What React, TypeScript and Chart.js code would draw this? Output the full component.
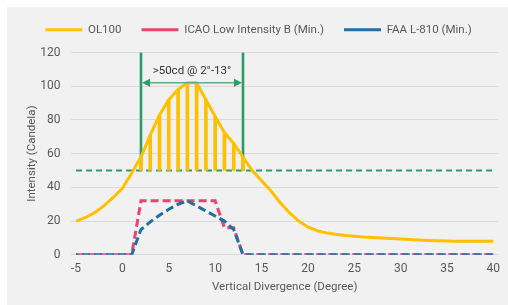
import React, { useEffect, useRef } from "react";
import { Chart, registerables } from "chart.js";

Chart.register(...registerables);

// Vertical divergence (degrees)
const degrees = [
  -5, -4, -3, -2, -1, 0, 1, 2, 3, 4, 5, 6, 7, 8, 9, 10, 11, 12, 13, 14, 15, 16, 17, 18, 19, 20,
  21, 22, 23, 24, 25, 26, 27, 28, 29, 30, 31, 32, 33, 34, 35, 36, 37, 38, 39, 40,
];
// OL100 intensity (cd)
const ol100 = [
  20, 22, 25, 29, 34, 39.5, 48.5, 58, 71, 83, 92, 98, 102, 102, 92, 82, 72.5, 66, 58, 50, 44,
  38, 31, 25, 20, 16.5, 14.3, 13, 12.2, 11.5, 11, 10.6, 10.3, 10, 9.7, 9.4, 9.1, 8.8, 8.5, 8.3,
  8.2, 8.1, 8.1, 8, 8, 8,
];
// ICAO Low Intensity B (Min.)
const icaoX = [-5, 1, 2, 10, 11, 12, 13, 40];
const icaoY = [0, 0, 32, 32, 16, 16, 0, 0];
// FAA L-810 (Min.)
const faaX = [-5, 1, 2, 3, 4, 5, 6, 7, 8, 9, 10, 11, 12, 13, 40];
const faaY = [0, 0, 15, 19.5, 23.5, 27, 30, 32, 29, 26, 23, 20, 15, 0, 0];

const xTicks = [-5, 0, 5, 10, 15, 20, 25, 30, 35, 40];
const yTicks = [0, 20, 40, 60, 80, 100, 120];

const rangeStart = 2;
const rangeEnd = 13;
const threshold = 50;
const yTop = 120;
const arrowLevel = 102;
const rangeLabel = ">50cd @ 2°-13°";

const seriesNames = ["OL100", "ICAO Low Intensity B (Min.)", "FAA L-810 (Min.)"];

const YELLOW = "#FFC000";
const PINK = "#E8446F";
const BLUE = "#1F6FA2";
const GREEN = "#2E9A6E";
const GREEN_LIGHT = "#5DAF8B";
const TXT = "#595959";
const FONT = "Roboto, 'Noto Sans', sans-serif";

const annotationPlugin = {
  id: "rangeAnnotation",
  afterDatasetsDraw(chart: any) {
    const { ctx, scales } = chart;
    const x1 = scales.x.getPixelForValue(rangeStart);
    const x2 = scales.x.getPixelForValue(rangeEnd);
    const y = scales.y.getPixelForValue(arrowLevel);
    ctx.save();
    ctx.strokeStyle = GREEN_LIGHT;
    ctx.lineWidth = 1.5;
    ctx.beginPath();
    ctx.moveTo(x1 + 4, y);
    ctx.lineTo(x2 - 4, y);
    ctx.stroke();
    const head = 8;
    const hw = 4;
    ctx.fillStyle = GREEN;
    ctx.beginPath();
    ctx.moveTo(x1 + 1, y);
    ctx.lineTo(x1 + 1 + head, y - hw);
    ctx.lineTo(x1 + 1 + head, y + hw);
    ctx.closePath();
    ctx.fill();
    ctx.beginPath();
    ctx.moveTo(x2 - 1, y);
    ctx.lineTo(x2 - 1 - head, y - hw);
    ctx.lineTo(x2 - 1 - head, y + hw);
    ctx.closePath();
    ctx.fill();
    ctx.fillStyle = "#333333";
    ctx.font = "11.5px " + FONT;
    ctx.textAlign = "center";
    ctx.textBaseline = "middle";
    ctx.fillText(rangeLabel, (x1 + x2) / 2, y - 12);
    ctx.restore();
  },
};

// extra space between legend and plot area
const legendGapPlugin = {
  id: "legendGap",
  beforeLayout(chart: any) {
    const lg = chart.legend;
    if (lg && !lg._gapPatched) {
      const fit = lg.fit;
      lg.fit = function () {
        fit.call(this);
        this.height += 7;
      };
      lg._gapPatched = true;
    }
  },
};

export default function App() {
  const ref = useRef<HTMLCanvasElement | null>(null);

  useEffect(() => {
    if (!ref.current) return;
    const olPoints = degrees.map((d, i) => ({ x: d, y: ol100[i] }));
    const hatch = degrees
      .map((d, i) => ({ x: d, y: [threshold, ol100[i]] }))
      .filter((p) => p.x >= rangeStart && p.x <= rangeEnd);
    const chart = new Chart(ref.current, {
      type: "line",
      data: {
        datasets: [
          {
            label: seriesNames[0],
            data: olPoints,
            borderColor: YELLOW,
            backgroundColor: YELLOW,
            borderWidth: 3,
            pointRadius: 0,
            tension: 0,
            order: 1,
          },
          {
            label: seriesNames[1],
            data: icaoX.map((x, i) => ({ x, y: icaoY[i] })),
            borderColor: PINK,
            backgroundColor: PINK,
            borderWidth: 3,
            borderDash: [8, 4],
            pointRadius: 0,
            tension: 0,
            order: 3,
          },
          {
            label: seriesNames[2],
            data: faaX.map((x, i) => ({ x, y: faaY[i] })),
            borderColor: BLUE,
            backgroundColor: BLUE,
            borderWidth: 3,
            borderDash: [8, 4],
            borderDashOffset: 6,
            pointRadius: 0,
            tension: 0,
            order: 2,
          },
          {
            type: "bar",
            label: "hatch",
            data: hatch as any,
            backgroundColor: YELLOW,
            barThickness: 3,
            grouped: false,
            order: 4,
          } as any,
          {
            type: "bar",
            label: "limits",
            data: [
              { x: rangeStart, y: [threshold, yTop] },
              { x: rangeEnd, y: [threshold, yTop] },
            ] as any,
            backgroundColor: GREEN,
            barThickness: 2,
            grouped: false,
            order: 5,
          } as any,
          {
            label: "threshold",
            data: [
              { x: degrees[0], y: threshold },
              { x: degrees[degrees.length - 1], y: threshold },
            ],
            borderColor: GREEN,
            borderWidth: 2,
            borderDash: [6, 4],
            pointRadius: 0,
            order: 6,
          },
        ],
      },
      options: {
        animation: false,
        responsive: true,
        maintainAspectRatio: false,
        layout: { padding: { left: 12, right: 10, top: -3, bottom: 7 } },
        plugins: {
          tooltip: { enabled: false },
          legend: {
            position: "top",
            labels: {
              usePointStyle: true,
              pointStyle: "line",
              pointStyleWidth: 37,
              padding: 20,
              color: TXT,
              font: { family: FONT, size: 11.5 },
              filter: (item: any) => item.datasetIndex < 3,
              sort: (a: any, b: any) => a.datasetIndex - b.datasetIndex,
            },
          },
        },
        scales: {
          x: {
            type: "linear",
            min: -5.5,
            max: 40.5,
            offset: false,
            afterBuildTicks: (axis: any) => {
              axis.ticks = xTicks.map((v) => ({ value: v }));
            },
            grid: { display: false, drawTicks: false, offset: false },
            border: { display: false },
            ticks: { color: TXT, font: { family: FONT, size: 12 }, padding: 7, maxRotation: 0 },
            title: {
              display: true,
              text: "Vertical Divergence (Degree)",
              color: TXT,
              font: { family: FONT, size: 11.5 },
              padding: { top: -3, bottom: 4 },
            },
          },
          y: {
            min: 0,
            max: 120,
            afterBuildTicks: (axis: any) => {
              axis.ticks = yTicks.map((v) => ({ value: v }));
            },
            grid: { color: "#dadada", drawTicks: false },
            border: { display: false },
            ticks: { color: TXT, font: { family: FONT, size: 12 }, padding: 11 },
            title: {
              display: true,
              text: "Intensity (Candela)",
              color: TXT,
              font: { family: FONT, size: 11.5 },
              padding: { top: 6, bottom: -9.6 },
            },
          },
        },
      },
      plugins: [annotationPlugin, legendGapPlugin],
    });
    return () => chart.destroy();
  }, []);

  return (
    <div
      style={{
        position: "absolute",
        left: 7,
        top: 7,
        width: 501,
        height: 298,
        background: "#f1f1f1",
      }}
    >
      <canvas ref={ref} />
    </div>
  );
}
